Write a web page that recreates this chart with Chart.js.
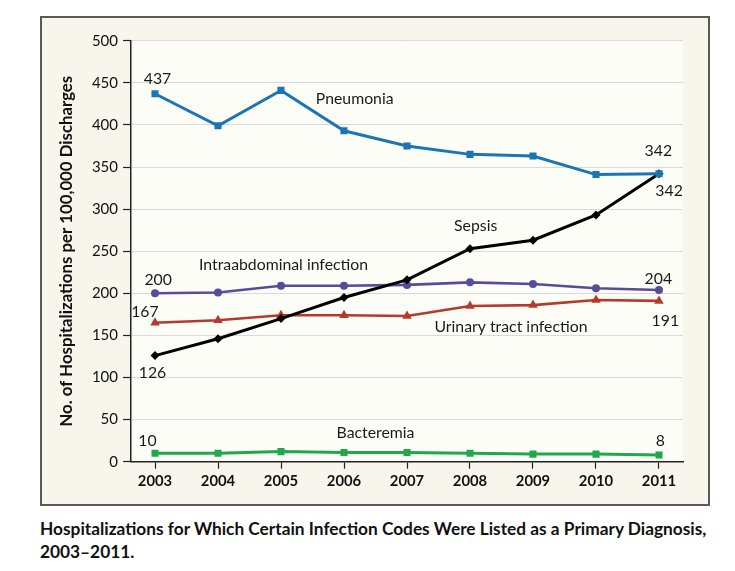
<!DOCTYPE html>
<html>
<head>
<meta charset="utf-8">
<script src="https://cdn.jsdelivr.net/npm/chart.js@4"></script>
<style>
  html, body { margin: 0; padding: 0; background: #fff; }
  body { width: 735px; height: 571px; position: relative; font-family: Lato, sans-serif; }
  #panel {
    position: absolute; left: 40px; top: 16px;
    width: 666px; height: 486px;
    border: 2px solid #5a5a5a;
    background: #f8f6ec;
  }
  #caption {
    position: absolute; left: 40px; top: 517px; width: 690px;
    font: bold 17.3px Lato, sans-serif; line-height: 23px; color: #111;
  }
</style>
</head>
<body>
<div id="panel"><canvas id="chart" width="666" height="486"></canvas></div>
<div id="caption">Hospitalizations for Which Certain Infection Codes Were Listed as a Primary Diagnosis,<br>2003–2011.</div>
<script>
// ---- data ----
var years = [2003, 2004, 2005, 2006, 2007, 2008, 2009, 2010, 2011];
var pneumonia      = [437, 399, 441, 393, 375, 365, 363, 341, 342];
var sepsis         = [126, 146, 170, 195, 216, 253, 263, 293, 342];
var intraabdominal = [200, 201, 209, 209, 210, 213, 211, 206, 204];
var urinaryTract   = [165, 168, 174, 174, 173, 185, 186, 192, 191];
var bacteremia     = [10, 10, 12, 11, 11, 10, 9, 9, 8];
var yTicks = [0, 50, 100, 150, 200, 250, 300, 350, 400, 450, 500];

// text placed on the plot, in data units (year, value)
var notes = [
  { text: '437', x: 2003.04, y: 455 },
  { text: 'Pneumonia', x: 2006.17, y: 431 },
  { text: '342', x: 2010.99, y: 369 },
  { text: '342', x: 2011.16, y: 322 },
  { text: 'Sepsis', x: 2008.09, y: 280 },
  { text: 'Intraabdominal infection', x: 2005.04, y: 234 },
  { text: '200', x: 2003.05, y: 216 },
  { text: '204', x: 2010.99, y: 217 },
  { text: '167', x: 2002.84, y: 178 },
  { text: 'Urinary tract infection', x: 2008.65, y: 160 },
  { text: '191', x: 2011.1, y: 167 },
  { text: '126', x: 2002.96, y: 106 },
  { text: 'Bacteremia', x: 2006.5, y: 34 },
  { text: '10', x: 2002.88, y: 25 },
  { text: '8', x: 2011.02, y: 25 }
];

function points(vals) {
  return years.map(function (yr, i) { return { x: yr, y: vals[i] }; });
}

function series(label, vals, color, style, radius, width) {
  return {
    label: label,
    data: points(vals),
    borderColor: color,
    backgroundColor: color,
    borderWidth: width,
    pointStyle: style,
    pointRadius: radius,
    pointBorderWidth: 0,
    tension: 0
  };
}

// cream plot background
var plotBg = {
  id: 'plotBg',
  beforeDraw: function (chart) {
    var a = chart.chartArea, ctx = chart.ctx;
    ctx.save();
    ctx.fillStyle = '#fdfdf8';
    ctx.fillRect(a.left, a.top, a.right - a.left, a.bottom - a.top);
    ctx.restore();
  }
};

// series labels and end values
var noteLabels = {
  id: 'noteLabels',
  afterDatasetsDraw: function (chart) {
    var ctx = chart.ctx, xs = chart.scales.x, ys = chart.scales.y;
    ctx.save();
    ctx.font = '15.8px Lato';
    ctx.fillStyle = '#1a1a1a';
    ctx.textAlign = 'center';
    ctx.textBaseline = 'middle';
    notes.forEach(function (n) {
      ctx.fillText(n.text, xs.getPixelForValue(n.x), ys.getPixelForValue(n.y));
    });
    ctx.restore();
  }
};

var ctx = document.getElementById('chart').getContext('2d');
var chart = new Chart(ctx, {
  type: 'line',
  data: {
    datasets: [
      series('Pneumonia', pneumonia, '#1b75b5', 'rect', 5, 3),
      series('Sepsis', sepsis, '#000000', 'rectRot', 4.5, 3),
      series('Intraabdominal infection', intraabdominal, '#5b4a9a', 'circle', 4, 2.6),
      series('Urinary tract infection', urinaryTract, '#b53a2c', 'triangle', 5.5, 2.6),
      series('Bacteremia', bacteremia, '#22a74f', 'rect', 5, 3)
    ]
  },
  options: {
    responsive: false,
    animation: false,
    layout: { padding: { left: 0, top: 22.7, right: 25, bottom: 0 } },
    plugins: {
      legend: { display: false },
      tooltip: { enabled: false }
    },
    scales: {
      x: {
        type: 'linear',
        min: 2002.619,
        max: 2011.381,
        afterBuildTicks: function (scale) {
          scale.ticks = years.map(function (v) { return { value: v }; });
        },
        afterFit: function (scale) { scale.height = 42.3; },
        grid: { drawOnChartArea: false, drawTicks: true, tickLength: 7, tickColor: '#222', tickWidth: 1.2 },
        border: { display: true, color: '#222', width: 1.5 },
        ticks: {
          padding: 4,
          color: '#111',
          font: { family: 'Lato', size: 14.8, weight: 'bold' },
          callback: function (v) { return String(v); }
        }
      },
      y: {
        min: 0,
        max: 500,
        afterBuildTicks: function (scale) {
          scale.ticks = yTicks.map(function (v) { return { value: v }; });
        },
        afterFit: function (scale) { scale.width = 89; },
        grid: { color: '#d9d9dc', lineWidth: 1, drawTicks: true, tickLength: 8, tickColor: '#222', tickWidth: 1.2 },
        border: { display: true, color: '#222', width: 1.5 },
        ticks: {
          padding: 5,
          color: '#111',
          font: { family: 'Lato', size: 15 }
        },
        title: {
          display: true,
          text: 'No. of Hospitalizations per 100,000 Discharges',
          color: '#111',
          font: { family: 'Lato', size: 16.8, weight: 'bold' },
          padding: { top: 15, bottom: 0 }
        }
      }
    }
  },
  plugins: [plotBg, noteLabels]
});
</script>
</body>
</html>
